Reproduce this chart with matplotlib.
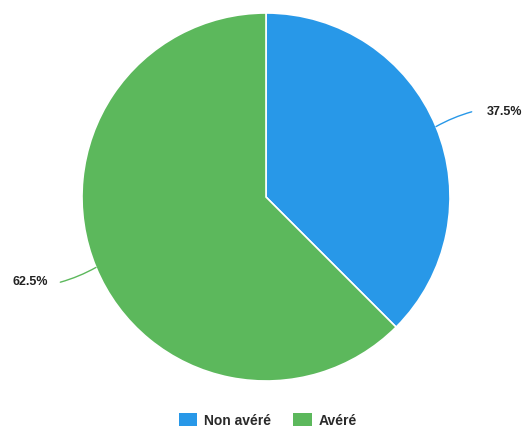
import numpy as np
import matplotlib
matplotlib.use("Agg")
import matplotlib.pyplot as plt
from matplotlib.patches import Patch

plt.rcParams['font.family'] = ['Liberation Sans', 'DejaVu Sans']

categories = ["Non avéré", "Avéré"]
shares = [37.5, 62.5]
pct_labels = ["37.5%", "62.5%"]
colors = ["#2898E8", "#5CB85C"]

W, H = 524, 431
fig = plt.figure(figsize=(W / 100, H / 100), dpi=100)
ax = fig.add_axes([0, 0, 1, 1])

cx, cy, R = 266, 233, 184
wedges, _ = ax.pie(shares, colors=colors, startangle=90, counterclock=False,
                   center=(cx, cy), radius=R, frame=True,
                   wedgeprops=dict(edgecolor='white', linewidth=1.2))
ax.set_xlim(0, W)
ax.set_ylim(0, H)
ax.set_aspect('equal')
ax.axis('off')

for w, lab, col in zip(wedges, pct_labels, colors):
    mid = np.deg2rad((w.theta1 + w.theta2) / 2)
    p0 = (cx + R * np.cos(mid), cy + R * np.sin(mid))
    p1 = (cx + 1.21 * R * np.cos(mid), cy + 1.21 * R * np.sin(mid))
    right = np.cos(mid) > 0
    ax.annotate("", xy=p0, xytext=p1,
                arrowprops=dict(arrowstyle='-', color=col, lw=1.0,
                                shrinkA=0, shrinkB=0,
                                connectionstyle="arc3,rad=0.06"))
    tx = p1[0] + 15 if right else p1[0] - 12
    ax.text(tx, p1[1] + 1, lab, ha='left' if right else 'right', va='center',
            fontsize=9, fontweight='bold', color='#222222')

handles = [Patch(facecolor=c, edgecolor='none') for c in colors]
fig.legend(handles, categories, loc='center', bbox_to_anchor=(268 / W, 1 - 421 / H),
           ncol=2, frameon=False, handlelength=1.3, handleheight=1.1,
           handletextpad=0.5, columnspacing=1.6,
           prop=dict(size=10, weight='bold'), labelcolor='#2a2a2a')

fig.savefig("out.png", dpi=100)
